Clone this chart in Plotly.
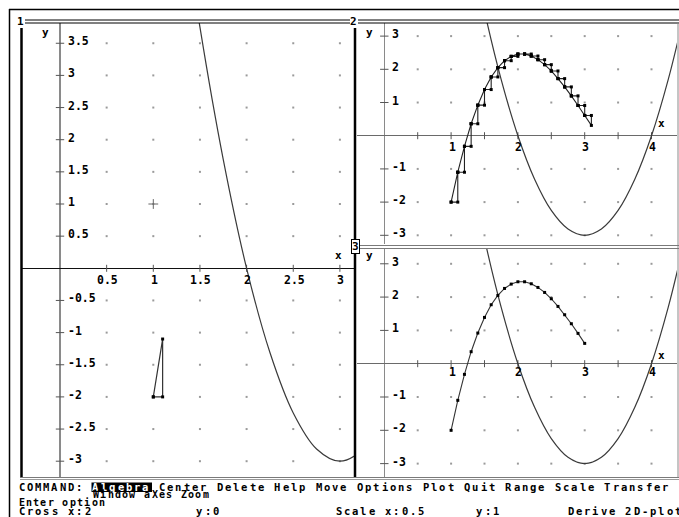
import plotly.graph_objects as go

W, H = 679, 517

# ---------------- data ----------------
euler_x = [1.0, 1.1, 1.2, 1.3, 1.4, 1.5, 1.6, 1.7, 1.8, 1.9, 2.0,
           2.1, 2.2, 2.3, 2.4, 2.5, 2.6, 2.7, 2.8, 2.9, 3.0, 3.1]
euler_y = [-2.0, -1.1, -0.32, 0.36, 0.92, 1.39, 1.77, 2.05, 2.26, 2.39, 2.46,
           2.46, 2.40, 2.29, 2.14, 1.95, 1.72, 1.47, 1.20, 0.91, 0.61, 0.31]
curve_x = [1.25, 1.5, 1.75, 2.0, 2.25, 2.5, 2.75, 3.0, 3.25, 3.5, 3.75, 4.0, 4.25, 4.5]
curve_y = [6.19, 3.75, 1.69, 0.0, -1.31, -2.25, -2.81, -3.0, -2.81, -2.25, -1.31, 0.0, 1.69, 3.75]
cursor_x = [1.0]
cursor_y = [1.0]

p1_xticks = [0.5, 1, 1.5, 2, 2.5, 3]
p1_xlabels = ["0.5", "1", "1.5", "2", "2.5", "3"]
p1_yticks = [3.5, 3, 2.5, 2, 1.5, 1, 0.5, -0.5, -1, -1.5, -2, -2.5, -3]
p1_ylabels = ["3.5", "3", "2.5", "2", "1.5", "1", "0.5", "-0.5", "-1", "-1.5", "-2", "-2.5", "-3"]
p2_xticks = [1, 2, 3, 4]
p2_xlabels = ["1", "2", "3", "4"]
p2_xminor = [0.5, 1, 1.5, 2, 2.5, 3, 3.5, 4]
p2_yticks = [3, 2, 1, -1, -2, -3]
p2_ylabels = ["3", "2", "1", "-1", "-2", "-3"]

# ---------------- helpers ----------------
def fx(px):
    return px / W

def fy(py):
    return 1 - py / H

MONO = "DejaVu Sans Mono"
fig = go.Figure()
annotations = []
shapes = []

panels = [
    dict(ax="x", ay="y", xd=[22, 354], yd=[23, 477], xr=[-0.4073, 3.1511], yr=[-3.2457, 3.8149]),
    dict(ax="x2", ay="y2", xd=[357, 677], yd=[23, 244], xr=[-0.4087, 4.3817], yr=[-3.262, 3.395]),
    dict(ax="x3", ay="y3", xd=[357, 677], yd=[249, 477], xr=[-0.4087, 4.3817], yr=[-3.402, 3.444]),
]

for i, p in enumerate(panels):
    sfx = "" if i == 0 else str(i + 1)
    fig.layout["xaxis" + sfx] = dict(
        domain=[fx(p["xd"][0]), fx(p["xd"][1])], range=p["xr"], anchor=p["ay"],
        showgrid=False, showticklabels=False, ticks="", showline=False,
        zeroline=True, zerolinecolor="#8a8a8a", zerolinewidth=1.3, fixedrange=True)
    fig.layout["yaxis" + sfx] = dict(
        domain=[fy(p["yd"][1]), fy(p["yd"][0])], range=p["yr"], anchor=p["ax"],
        showgrid=False, showticklabels=False, ticks="", showline=False,
        zeroline=True, zerolinecolor="#111111" if i == 0 else "#6a6a6a",
        zerolinewidth=1.3, fixedrange=True)

def grid_dots(xs, ys, ax, ay):
    gx, gy = [], []
    for yv in ys:
        for xv in xs:
            gx.append(xv)
            gy.append(yv)
    fig.add_trace(go.Scatter(x=gx, y=gy, mode="markers", xaxis=ax, yaxis=ay,
                             marker=dict(symbol="square", size=2, color="#9a9a9a",
                                         line=dict(width=0)),
                             hoverinfo="skip", showlegend=False))

def axis_ticks(xs, ys, ax, ay):
    fig.add_trace(go.Scatter(x=[0] * len(ys), y=ys, mode="markers", xaxis=ax, yaxis=ay,
                             marker=dict(symbol="line-ew", size=6,
                                         line=dict(width=1, color="#555555")),
                             hoverinfo="skip", showlegend=False))
    fig.add_trace(go.Scatter(x=xs, y=[0] * len(xs), mode="markers", xaxis=ax, yaxis=ay,
                             marker=dict(symbol="line-ns", size=5,
                                         line=dict(width=1, color="#555555")),
                             hoverinfo="skip", showlegend=False))

def tick_labels(xt, xl, yt, yl, ax, ay, xdy, ydy=2):
    for v, t in zip(xt, xl):
        annotations.append(dict(x=v, y=0, xref=ax, yref=ay, text=t, showarrow=False,
                                xanchor="center", yanchor="middle", xshift=1, yshift=xdy,
                                font=dict(family=MONO, size=11.5, color="#000", weight="bold")))
    for v, t in zip(yt, yl):
        annotations.append(dict(x=0, y=v, xref=ax, yref=ay, text=t, showarrow=False,
                                xanchor="left", yanchor="middle", xshift=6, yshift=ydy,
                                font=dict(family=MONO, size=11.5, color="#000", weight="bold")))

def axis_names(ax, ay, ypos, xpos, xy):
    annotations.append(dict(x=0, y=ypos, xref=ax, yref=ay, text="y", showarrow=False,
                            xanchor="center", yanchor="middle", xshift=-15,
                            font=dict(family=MONO, size=11, color="#000", weight="bold")))
    annotations.append(dict(x=xpos, y=xy, xref=ax, yref=ay, text="x", showarrow=False,
                            xanchor="center", yanchor="middle",
                            font=dict(family=MONO, size=11, color="#000", weight="bold")))

# ---------------- panel 1 ----------------
grid_dots(p1_xticks, p1_yticks, "x", "y")
axis_ticks(p1_xticks, p1_yticks, "x", "y")
fig.add_trace(go.Scatter(x=curve_x, y=curve_y, mode="lines", xaxis="x", yaxis="y",
                         line=dict(color="#3a3a3a", width=1.2, shape="spline"),
                         hoverinfo="skip", showlegend=False))
tri1_x = [euler_x[0], euler_x[1], euler_x[1], euler_x[0]]
tri1_y = [euler_y[0], euler_y[0], euler_y[1], euler_y[0]]
fig.add_trace(go.Scatter(x=tri1_x, y=tri1_y, mode="lines+markers", xaxis="x", yaxis="y",
                         line=dict(color="#333333", width=1.2),
                         marker=dict(symbol="square", size=3, color="#000"),
                         hoverinfo="skip", showlegend=False))
fig.add_trace(go.Scatter(x=cursor_x, y=cursor_y, mode="markers", xaxis="x", yaxis="y",
                         marker=dict(symbol="cross-thin", size=7,
                                     line=dict(width=1, color="#666666")),
                         hoverinfo="skip", showlegend=False))
tick_labels(p1_xticks, p1_xlabels, p1_yticks, p1_ylabels, "x", "y", -12)
axis_names("x", "y", 3.67, 2.98, 0.2)

# ---------------- panel 2 ----------------
grid_dots(p2_xminor, p2_yticks, "x2", "y2")
axis_ticks(p2_xminor, p2_yticks, "x2", "y2")
fig.add_trace(go.Scatter(x=curve_x, y=curve_y, mode="lines", xaxis="x2", yaxis="y2",
                         line=dict(color="#3a3a3a", width=1.2, shape="spline"),
                         hoverinfo="skip", showlegend=False))
tx, ty = [], []
for k in range(len(euler_x) - 1):
    tx += [euler_x[k], euler_x[k + 1], euler_x[k + 1], euler_x[k], None]
    ty += [euler_y[k], euler_y[k], euler_y[k + 1], euler_y[k], None]
fig.add_trace(go.Scatter(x=tx, y=ty, mode="lines+markers", xaxis="x2", yaxis="y2",
                         line=dict(color="#222222", width=1.1),
                         marker=dict(symbol="square", size=3, color="#000"),
                         hoverinfo="skip", showlegend=False))
tick_labels(p2_xticks, p2_xlabels, p2_yticks, p2_ylabels, "x2", "y2", -11)
axis_names("x2", "y2", 3.12, 4.155, 0.38)

# ---------------- panel 3 ----------------
grid_dots(p2_xminor, p2_yticks, "x3", "y3")
axis_ticks(p2_xminor, p2_yticks, "x3", "y3")
fig.add_trace(go.Scatter(x=curve_x, y=curve_y, mode="lines", xaxis="x3", yaxis="y3",
                         line=dict(color="#3a3a3a", width=1.2, shape="spline"),
                         hoverinfo="skip", showlegend=False))
fig.add_trace(go.Scatter(x=euler_x[:21], y=euler_y[:21], mode="lines+markers",
                         xaxis="x3", yaxis="y3",
                         line=dict(color="#333333", width=1.1),
                         marker=dict(symbol="square", size=3, color="#000"),
                         hoverinfo="skip", showlegend=False))
tick_labels(p2_xticks, p2_xlabels, p2_yticks, p2_ylabels, "x3", "y3", -8)
axis_names("x3", "y3", 3.26, 4.155, 0.26)

# ---------------- window frames ----------------
def hline(x0, x1, y, color="#000", w=1):
    shapes.append(dict(type="line", xref="paper", yref="paper", x0=fx(x0), x1=fx(x1),
                       y0=fy(y), y1=fy(y), line=dict(color=color, width=w), layer="above"))

def vline(x, y0, y1, color="#000", w=1):
    shapes.append(dict(type="line", xref="paper", yref="paper", x0=fx(x), x1=fx(x),
                       y0=fy(y0), y1=fy(y1), line=dict(color=color, width=w), layer="above"))

hline(9, 679, 9.5, "#000", 1.5)
vline(9.5, 9, 517, "#000", 1.5)
for yy in (20, 23):
    hline(25, 351, yy, "#000", 1)
    hline(358, 679, yy, "#000", 1)
vline(21.5, 21, 478, "#000", 2.5)
vline(355, 21, 478, "#000", 2.5)
vline(678, 23, 478, "#8a8a8a", 1)
for yy in (245.5, 248.5):
    hline(358, 679, yy, "#7a7a7a", 1.2)
hline(20, 679, 477.5, "#7a7a7a", 1.2)
hline(20, 679, 479.5, "#9a9a9a", 1)

for lab, (px, py) in {"1": (20, 21), "2": (353.5, 21), "3": (355, 246.5)}.items():
    annotations.append(dict(x=fx(px), y=fy(py), xref="paper", yref="paper", text=lab,
                            showarrow=False, xanchor="center", yanchor="middle",
                            bgcolor="white", borderpad=0,
                            bordercolor="#000" if lab == "3" else "rgba(0,0,0,0)",
                            borderwidth=1 if lab == "3" else 0,
                            font=dict(family=MONO, size=11, color="#000", weight="bold")))

# ---------------- status lines ----------------
def text_row(s, x0, y, pitch, size, inv=None):
    for i, ch in enumerate(s):
        if ch == " ":
            continue
        white = inv is not None and inv[0] <= i < inv[1]
        annotations.append(dict(x=fx(x0 + i * pitch + 3.6), y=fy(y), xref="paper", yref="paper",
                                text=ch, showarrow=False, xanchor="center", yanchor="middle",
                                borderpad=0,
                                font=dict(family=MONO, size=size,
                                          color="#fff" if white else "#000", weight="bold")))

shapes.append(dict(type="rect", xref="paper", yref="paper", x0=fx(91.5), x1=fx(152),
                   y0=fy(492), y1=fy(482.5), fillcolor="#000", line=dict(width=0),
                   layer="above"))
text_row("COMMAND: Algebra Center Delete Help Move Options Plot Quit Range Scale Transfer",
         18, 487, 8.25, 10.5, inv=(9, 16))
text_row("Window aXes Zoom", 92.5, 494.5, 7.3, 10)
text_row("Enter option", 18, 502.5, 7.3, 10)
for word, x0 in [("Cross x:2", 18), ("y:0", 196), ("Scale x:0.5", 335),
                 ("y:1", 476), ("Derive 2D-plot", 567)]:
    text_row(word, x0, 511, 8.25, 10.5)

fig.update_layout(width=W, height=H, margin=dict(l=0, r=0, t=0, b=0),
                  paper_bgcolor="white", plot_bgcolor="white",
                  showlegend=False, annotations=annotations, shapes=shapes)

fig.write_html("out.html", config={"displayModeBar": False, "staticPlot": True},
               post_script="document.body.style.margin='0';document.body.style.overflow='hidden';")
